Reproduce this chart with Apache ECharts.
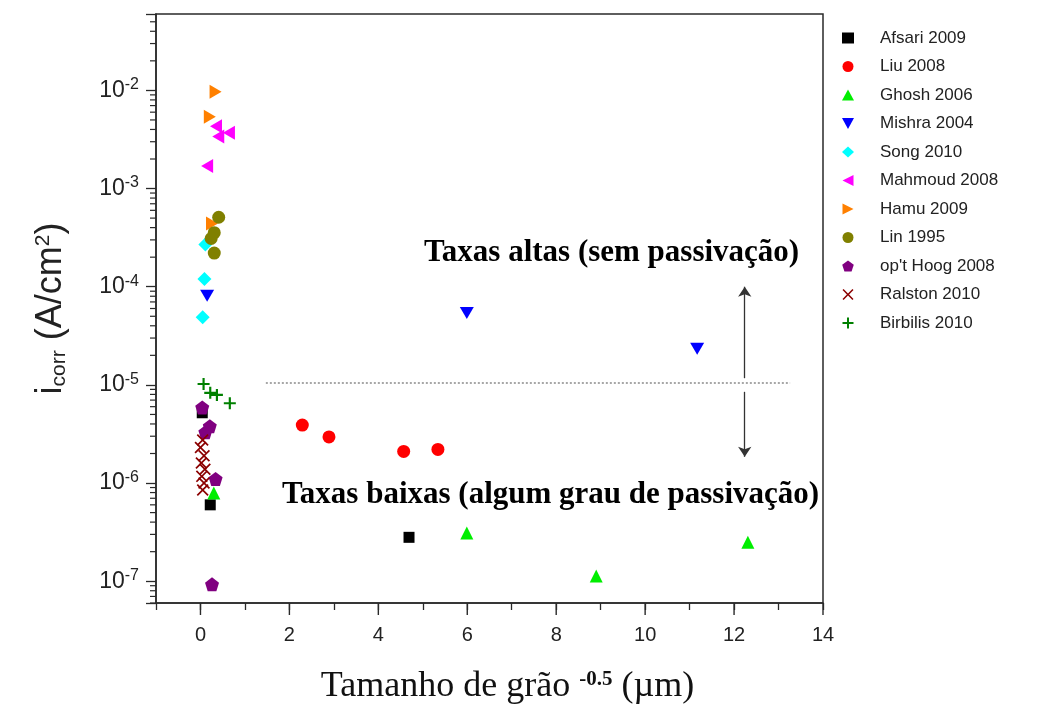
<!DOCTYPE html>
<html><head><meta charset="utf-8">
<script src="https://cdn.jsdelivr.net/npm/echarts@6/dist/echarts.min.js"></script>
<style>html,body{margin:0;padding:0;background:#fff}#c{width:1040px;height:706px}</style>
</head><body><div id="c"></div>
<script>
// ---- data (x = grain size^-0.5, y = i_corr in A/cm2) ----
const afsari2009   = [[0.04, 5.2e-6], [0.22, 6.0e-7], [4.69, 2.8e-7]];
const liu2008      = [[2.29, 3.9e-6], [2.89, 2.95e-6], [4.57, 2.1e-6], [5.34, 2.2e-6]];
const ghosh2006    = [[0.30, 7.9e-7], [5.99, 3.1e-7], [8.90, 1.13e-7], [12.31, 2.5e-7]];
const mishra2004   = [[0.15, 8.1e-5], [5.99, 5.4e-5], [11.17, 2.34e-5]];
const song2010     = [[0.11, 2.7e-4], [0.09, 1.2e-4], [0.05, 4.9e-5]];
const mahmoud2008  = [[0.15, 1.7e-3], [0.35, 4.3e-3], [0.64, 3.7e-3], [0.40, 3.4e-3]];
const hamu2009     = [[0.34, 9.7e-3], [0.21, 5.4e-3], [0.26, 4.4e-4]];
const lin1995      = [[0.41, 5.1e-4], [0.31, 3.55e-4], [0.24, 3.1e-4], [0.31, 2.2e-4]];
const optHoog2008  = [[0.04, 5.9e-6], [0.21, 3.8e-6], [0.11, 3.3e-6], [0.34, 1.1e-6], [0.26, 9.3e-8]];
const ralston2010  = [[0.05, 2.75e-6], [0.00, 2.3e-6], [0.08, 1.9e-6], [0.02, 1.6e-6], [0.10, 1.38e-6], [0.03, 1.17e-6], [0.08, 1.0e-6], [0.05, 8.5e-7]];
const birbilis2010 = [[0.07, 1.02e-5], [0.22, 8.3e-6], [0.37, 7.9e-6], [0.66, 6.5e-6]];

const seriesNames = ['Afsari 2009', 'Liu 2008', 'Ghosh 2006', 'Mishra 2004', 'Song 2010', 'Mahmoud 2008',
                     'Hamu 2009', 'Lin 1995', "op't Hoog 2008", 'Ralston 2010', 'Birbilis 2010'];
const seriesData = [afsari2009, liu2008, ghosh2006, mishra2004, song2010, mahmoud2008,
                    hamu2009, lin1995, optHoog2008, ralston2010, birbilis2010];

// annotation lines (data coordinates)
const thresholdLine = [[1.47, 1.05e-5], [13.26, 1.05e-5]];
const arrowUpLine   = [[12.24, 1.17e-5], [12.24, 1.0e-4]];
const arrowDownLine = [[12.24, 8.5e-6], [12.24, 1.85e-6]];

// axis ticks
const xTickLabels = [0, 2, 4, 6, 8, 10, 12, 14];
const yDecades = [1e-8, 1e-7, 1e-6, 1e-5, 1e-4, 1e-3, 1e-2];
const yMinorMultipliers = [2, 3, 4, 5, 6, 7, 8, 9];

// ---- styles ----
const colors = ['#000000', '#ff0000', '#00ee00', '#0000ff', '#00ffff', '#ff00ff',
                '#ff8000', '#808000', '#800080', '#8b0000', '#008000'];
const symbols = [
  'rect', 'circle', 'triangle',
  'path://M0,0 L10,0 L5,9 Z',
  'diamond',
  'path://M10,0 L10,10 L0,5 Z',
  'path://M0,0 L0,10 L10,5 Z',
  'circle',
  'path://M50,0 L97.6,34.5 L79.4,90.5 L20.6,90.5 L2.4,34.5 Z',
  'path://M0,1 L1,0 L5,4 L9,0 L10,1 L6,5 L10,9 L9,10 L5,6 L1,10 L0,9 L4,5 Z',
  'path://M4.1,0 H5.9 V4.1 H10 V5.9 H5.9 V10 H4.1 V5.9 H0 V4.1 H4.1 Z'
];
const sizes = [11, 13, 13, [14, 12], 14, [12, 14], [12, 14], 13, 14, 12, 12];

const X_MIN = -1, X_MAX = 14, Y_MIN = 6e-8, Y_MAX = 6e-2;
const axisColor = '#2a2a2a';

const yMinorTicks = [];
yDecades.forEach(d => yMinorMultipliers.forEach(m => {
  const v = d * m; if (v > Y_MIN && v < Y_MAX) yMinorTicks.push([X_MIN, v]);
}));
const xMajorTicks = xTickLabels.map(v => [v, Y_MIN]);

const chart = echarts.init(document.getElementById('c'), null, {renderer: 'canvas'});

const scatterSeries = seriesNames.map((name, i) => ({
  name, type: 'scatter', data: seriesData[i],
  symbol: symbols[i], symbolSize: sizes[i],
  itemStyle: {color: colors[i], opacity: 1},
  emphasis: {disabled: true}, z: 3 + i
}));

const option = {
  animation: false,
  backgroundColor: '#ffffff',
  grid: {left: 156, top: 14, right: 217, bottom: 103, show: true, containLabel: false,
         outerBoundsMode: 'none',
         borderColor: axisColor, borderWidth: 1.5, backgroundColor: 'transparent'},
  legend: {
    orient: 'vertical', left: 837, top: 23, itemWidth: 12, itemHeight: 11, itemGap: 8.5,
    data: seriesNames,
    textStyle: {fontSize: 17, color: '#222', fontFamily: 'Liberation Sans, Arial', lineHeight: 20, padding: [0, 0, 0, 21]},
    selectedMode: false
  },
  xAxis: {
    type: 'value', min: X_MIN, max: X_MAX, interval: 1,
    axisLine: {onZero: false, lineStyle: {color: axisColor, width: 1.5}},
    axisTick: {length: 7, lineStyle: {color: axisColor, width: 1.3}},
    splitLine: {show: false},
    axisLabel: {
      margin: 22, fontSize: 20, color: '#222', fontFamily: 'Liberation Sans, Arial',
      formatter: v => (xTickLabels.indexOf(v) >= 0 ? String(v) : '')
    },
    name: 'Tamanho de grão {sup|-0.5} (µm)',
    nameLocation: 'middle', nameGap: 66,
    nameTextStyle: {
      fontSize: 36, color: '#111', fontFamily: 'Liberation Serif, Times New Roman', padding: [0, 0, 0, 36],
      rich: {sup: {fontSize: 21, fontWeight: 'bold', fontFamily: 'Liberation Serif', color: '#111', verticalAlign: 'top', padding: [0, 0, 15, 0]}}
    }
  },
  yAxis: {
    type: 'log', logBase: 10, min: Y_MIN, max: Y_MAX,
    axisLine: {onZero: false, lineStyle: {color: axisColor, width: 1.5}},
    axisTick: {length: 10, lineStyle: {color: axisColor, width: 1.3}},
    splitLine: {show: false},
    axisLabel: {
      margin: 17, fontSize: 23, color: '#222', fontFamily: 'Liberation Sans, Arial',
      formatter: v => {
        const l = Math.log10(v), e = Math.round(l);
        if (Math.abs(l - e) > 1e-6) return '';
        return '10{sup|' + e + '}';
      },
      rich: {sup: {fontSize: 16, color: '#222', verticalAlign: 'top', padding: [0, 0, 11, 0]}}
    },
    name: 'i{sub|corr} (A/cm{sup|2})',
    nameLocation: 'middle', nameGap: 86, nameRotate: 90,
    nameTextStyle: {
      fontSize: 36, color: '#222', fontFamily: 'Liberation Sans, Arial',
      rich: {
        sub: {fontSize: 21, color: '#222', verticalAlign: 'bottom', padding: [16, 0, 0, 0]},
        sup: {fontSize: 21, color: '#222', verticalAlign: 'top', padding: [0, 0, 16, 0]}
      }
    }
  },
  graphic: [
    {type: 'text', left: 424, top: 237, silent: true,
     style: {text: 'Taxas altas (sem passivação)', font: 'bold 31px "Liberation Serif"', fill: '#000'}},
    {type: 'text', left: 282, top: 479, silent: true,
     style: {text: 'Taxas baixas (algum grau de passivação)', font: 'bold 31px "Liberation Serif"', fill: '#000'}}
  ],
  series: [
    ...scatterSeries,
    {
      type: 'custom', name: 'yMinorTicks', data: yMinorTicks, silent: true, clip: false, z: 1,
      renderItem: (params, api) => {
        const p = api.coord([api.value(0), api.value(1)]);
        return {type: 'line', shape: {x1: p[0] - 6, y1: p[1], x2: p[0], y2: p[1]},
                style: {stroke: axisColor, lineWidth: 1.2}};
      }
    },
    {
      type: 'custom', name: 'xMajorTicks', data: xMajorTicks, silent: true, clip: false, z: 1,
      renderItem: (params, api) => {
        const p = api.coord([api.value(0), api.value(1)]);
        return {type: 'line', shape: {x1: p[0], y1: p[1], x2: p[0], y2: p[1] + 12},
                style: {stroke: axisColor, lineWidth: 1.4}};
      }
    },
    {
      type: 'scatter', name: 'threshold', data: [], silent: true,
      markLine: {
        silent: true, symbol: ['none', 'none'], label: {show: false}, animation: false,
        lineStyle: {color: '#8a8a8a', type: [2, 2], width: 1.6},
        emphasis: {disabled: true},
        data: [[{coord: thresholdLine[0]}, {coord: thresholdLine[1]}]]
      }
    },
    {
      type: 'scatter', name: 'arrows', data: [], silent: true,
      markLine: {
        silent: true, symbol: ['none', 'arrow'], symbolSize: 10, label: {show: false}, animation: false,
        lineStyle: {color: '#333', type: 'solid', width: 1.3},
        emphasis: {disabled: true},
        data: [[{coord: arrowUpLine[0]}, {coord: arrowUpLine[1]}],
               [{coord: arrowDownLine[0]}, {coord: arrowDownLine[1]}]]
      }
    }
  ]
};
chart.setOption(option);
</script>
</body></html>
